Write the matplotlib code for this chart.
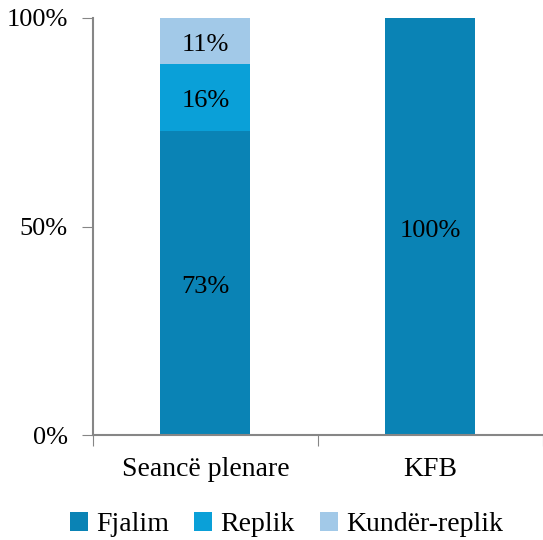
import matplotlib
matplotlib.use('Agg')
import matplotlib.pyplot as plt
import numpy as np

plt.rcParams['font.family'] = ['Liberation Serif', 'DejaVu Serif']

categories = ['Seancë plenare', 'KFB']
series_names = ['Fjalim', 'Replik', 'Kundër-replik']
fjalim = [73, 100]
replik = [16, 0]
kunder = [11, 0]
colors = ['#0a83b5', '#0aa0d8', '#a2c9e8']

fig = plt.figure(figsize=(5.43, 5.40), dpi=100)
ax = fig.add_axes([0.171, 0.194, 0.829, 0.773])

x = np.arange(len(categories))
bottom = np.zeros(len(categories))
for vals, name, c in zip([fjalim, replik, kunder], series_names, colors):
    vals = np.array(vals, dtype=float)
    ax.bar(x, vals, 0.4, bottom=bottom, color=c, label=name, zorder=2)
    for xi, v, b in zip(x, vals, bottom):
        if v > 0:
            ax.text(xi, b + v / 2 - 1, f'{int(v)}%', ha='center', va='center',
                    fontsize=19, color='black', zorder=3)
    bottom += vals

ax.set_xlim(-0.5, 1.5)
ax.set_ylim(0, 100)
ax.set_yticks([0, 50, 100])
ax.set_yticklabels(['0%', '50%', '100%'], fontsize=19)
ax.set_xticks([-0.5, 0.5, 1.5], minor=False)
ax.set_xticklabels([])
ax.set_xticks(x, minor=True)
ax.set_xticklabels(categories, minor=True, fontsize=20)
ax.tick_params(axis='x', which='minor', length=0, pad=16)
ax.tick_params(axis='x', which='major', length=8, color='#868686', direction='out')
ax.tick_params(axis='y', length=8, color='#868686', direction='out', pad=10)

for s in ['top', 'right']:
    ax.spines[s].set_visible(False)
for s in ['left', 'bottom']:
    ax.spines[s].set_color('#868686')
    ax.spines[s].set_linewidth(1.5)

ax.legend(loc='upper center', bbox_to_anchor=(0.43, -0.125), ncol=3, frameon=False,
          fontsize=20, handlelength=0.65, handleheight=0.65, handletextpad=0.3,
          columnspacing=0.9)

fig.savefig('out.png', dpi=100)
